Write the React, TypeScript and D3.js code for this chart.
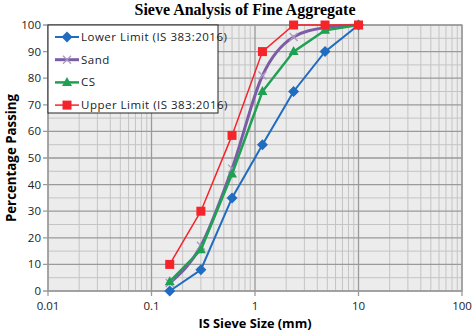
import React from "react";
import * as d3 from "d3";

const sieveSizes = [0.15, 0.3, 0.6, 1.18, 2.36, 4.75, 10];
const lowerLimit = [0, 8, 35, 55, 75, 90, 100];
const sand = [3, 17, 46, 81, 95.5, 99, 100];
const cs = [3.5, 15.5, 44, 75, 90, 98, 100];
const upperLimit = [10, 30, 58.5, 90, 100, 100, 100];
const xTicks = [0.01, 0.1, 1, 10, 100];
const yTicks = [0, 10, 20, 30, 40, 50, 60, 70, 80, 90, 100];

const W = 474;
const H = 335;
const margin = { left: 48, right: 12, top: 25, bottom: 44 };

const series = [
  { name: "Lower Limit (IS 383:2016)", values: lowerLimit, color: "#1f6cc0", width: 2, marker: "diamond", smooth: false },
  { name: "Sand", values: sand, color: "#7d5ca6", width: 3, marker: "x", smooth: true },
  { name: "CS", values: cs, color: "#1ea152", width: 2.5, marker: "triangle", smooth: false },
  { name: "Upper Limit (IS 383:2016)", values: upperLimit, color: "#f5242a", width: 1.5, marker: "square", smooth: false },
];

const Marker = ({ type, color, x, y }: { type: string; color: string; x: number; y: number }) => {
  if (type === "diamond") {
    return <path d={`M${x},${y - 5.5}L${x + 5.5},${y}L${x},${y + 5.5}L${x - 5.5},${y}Z`} fill={color} />;
  }
  if (type === "square") {
    return <rect x={x - 4.5} y={y - 4.5} width={9} height={9} fill={color} />;
  }
  if (type === "triangle") {
    return <path d={`M${x},${y - 5.5}L${x + 5},${y + 3.5}L${x - 5},${y + 3.5}Z`} fill={color} />;
  }
  return (
    <path
      d={`M${x - 4},${y - 4}L${x + 4},${y + 4}M${x - 4},${y + 4}L${x + 4},${y - 4}`}
      stroke="#a99cc0"
      strokeWidth={1.3}
    />
  );
};

export default function App() {
  const x = d3.scaleLog().domain([0.01, 100]).range([margin.left, W - margin.right]);
  const y = d3.scaleLinear().domain([0, 100]).range([H - margin.bottom, margin.top]);

  const minorX: number[] = [];
  [0.01, 0.1, 1, 10].forEach((d) => {
    for (let k = 2; k <= 9; k++) minorX.push(d * k);
  });
  const minorY = d3.range(5, 100, 10);

  const lineFor = (smooth: boolean) =>
    d3
      .line<number>()
      .x((_, i) => x(sieveSizes[i]))
      .y((d) => y(d))
      .curve(smooth ? d3.curveMonotoneX : d3.curveLinear);

  const [x0, x1] = x.range();
  const [y0, y1] = y.range();
  const font = "'Open Sans', 'Noto Sans', sans-serif";

  return (
    <svg width={W} height={H} style={{ position: "absolute", left: 0, top: 0 }}>
      <rect width={W} height={H} fill="#fff" />
      <text x={245} y={15} textAnchor="middle" fontFamily="'Liberation Serif', serif" fontWeight="bold" fontSize={16}>
        Sieve Analysis of Fine Aggregate
      </text>
      <rect x={x0} y={y1} width={x1 - x0} height={y0 - y1} fill="#ececec" />
      {minorY.map((v) => (
        <line key={"my" + v} x1={x0} x2={x1} y1={y(v)} y2={y(v)} stroke="#c4c4c4" strokeWidth={1} />
      ))}
      {minorX.map((v, i) => (
        <line key={"mx" + i} x1={x(v)} x2={x(v)} y1={y1} y2={y0} stroke="#c4c4c4" strokeWidth={1} />
      ))}
      {yTicks.map((v) => (
        <line key={"gy" + v} x1={x0 - 5} x2={x1} y1={y(v)} y2={y(v)} stroke="#9a9a9a" strokeWidth={1.3} />
      ))}
      {xTicks.map((v) => (
        <line key={"gx" + v} x1={x(v)} x2={x(v)} y1={y1} y2={y0 + 5} stroke="#9a9a9a" strokeWidth={1.3} />
      ))}
      <rect x={x0} y={y1} width={x1 - x0} height={y0 - y1} fill="none" stroke="#9a9a9a" strokeWidth={1.3} />
      {yTicks.map((v) => (
        <text key={"ty" + v} x={x0 - 7} y={y(v) + 4} textAnchor="end" fontFamily={font} fontSize={11.5} fill="#222">
          {v}
        </text>
      ))}
      {xTicks.map((v) => (
        <text key={"tx" + v} x={x(v)} y={y0 + 19} textAnchor="middle" fontFamily={font} fontSize={11.5} fill="#222">
          {String(v)}
        </text>
      ))}
      <text x={255} y={328} textAnchor="middle" fontFamily={font} fontWeight="bold" fontSize={12.8}>
        IS Sieve Size (mm)
      </text>
      <text
        transform={`translate(16,${(y0 + y1) / 2}) rotate(-90)`}
        textAnchor="middle"
        fontFamily={font}
        fontWeight="bold"
        fontSize={13.3}
      >
        Percentage Passing
      </text>
      {series.map((s) => (
        <g key={s.name}>
          <path d={lineFor(s.smooth)(s.values) || ""} fill="none" stroke={s.color} strokeWidth={s.width} />
          {s.values.map((v, i) => (
            <Marker key={i} type={s.marker} color={s.color} x={x(sieveSizes[i])} y={y(v)} />
          ))}
        </g>
      ))}
      <rect x={x0} y={y1} width={170} height={88} fill="#fff" stroke="#222" strokeWidth={1} />
      {series.map((s, i) => {
        const ly = y1 + 12 + i * 22.7;
        return (
          <g key={"lg" + s.name}>
            <line x1={x0 + 7} x2={x0 + 31} y1={ly} y2={ly} stroke={s.color} strokeWidth={s.width} />
            <Marker type={s.marker} color={s.color} x={x0 + 19} y={ly} />
            <text x={x0 + 33} y={ly + 4} fontFamily={font} fontSize={11.5} letterSpacing={0.5} fill="#222">
              {s.name}
            </text>
          </g>
        );
      })}
    </svg>
  );
}
